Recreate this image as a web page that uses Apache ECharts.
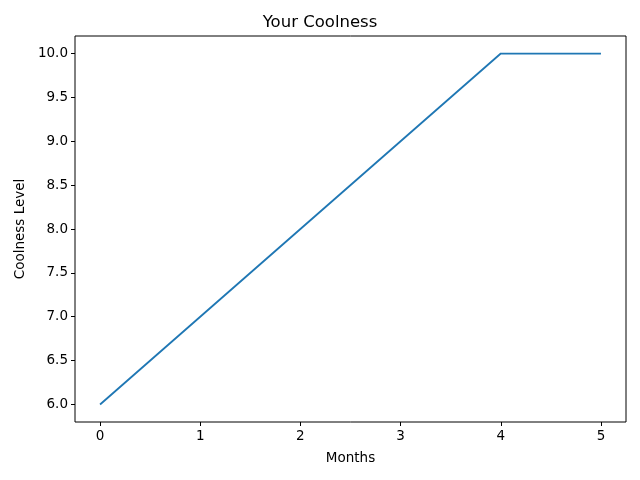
<!DOCTYPE html>
<html>
<head>
<meta charset="utf-8">
<script src="https://cdn.jsdelivr.net/npm/echarts@6/dist/echarts.min.js"></script>
<style>
  html, body { margin: 0; padding: 0; background: #fff; }
  #chart { width: 640px; height: 480px; }
</style>
</head>
<body>
<div id="chart"></div>
<script>
// 数据
const months = [0, 1, 2, 3, 4, 5];
const coolness = [6, 7, 8, 9, 10, 10];
const xTicks = [0, 1, 2, 3, 4, 5];
const yTicks = [6, 6.5, 7, 7.5, 8, 8.5, 9, 9.5, 10];

const font = "DejaVu Sans";
const chart = echarts.init(document.getElementById("chart"), null, { renderer: "canvas" });

const option = {
  animation: false,
  backgroundColor: "#fff",
  title: {
    text: "Your Coolness",
    left: "center",
    top: 9,
    textStyle: { fontFamily: font, fontSize: 16.5, fontWeight: "normal", color: "#000" }
  },
  grid: {
    left: 75,
    right: 14,
    top: 36,
    bottom: 58,
    show: true,
    borderColor: "#000",
    borderWidth: 1,
    containLabel: false
  },
  xAxis: {
    type: "value",
    min: -0.25,
    max: 5.25,
    name: "Months",
    nameLocation: "middle",
    nameGap: 29,
    nameTextStyle: { fontFamily: font, fontSize: 13.5, color: "#000" },
    axisLine: { show: false, onZero: false },
    splitLine: { show: false },
    axisTick: { show: true, length: 4, lineStyle: { color: "#000" }, customValues: xTicks },
    axisLabel: {
      fontFamily: font, fontSize: 13.5, color: "#000", margin: 7,
      customValues: xTicks,
      formatter: v => String(v)
    }
  },
  yAxis: {
    type: "value",
    min: 5.8,
    max: 10.2,
    name: "Coolness Level",
    nameLocation: "middle",
    nameGap: 47,
    nameTextStyle: { fontFamily: font, fontSize: 13.5, color: "#000" },
    axisLine: { show: false, onZero: false },
    splitLine: { show: false },
    axisTick: { show: true, length: 4, lineStyle: { color: "#000" }, customValues: yTicks },
    axisLabel: {
      fontFamily: font, fontSize: 13.5, color: "#000", margin: 7,
      customValues: yTicks,
      formatter: v => v.toFixed(1)
    }
  },
  series: [{
    type: "line",
    data: months.map((m, i) => [m, coolness[i]]),
    showSymbol: false,
    lineStyle: { color: "#1f77b4", width: 1.8 }
  }]
};
chart.setOption(option);
</script>
</body>
</html>
